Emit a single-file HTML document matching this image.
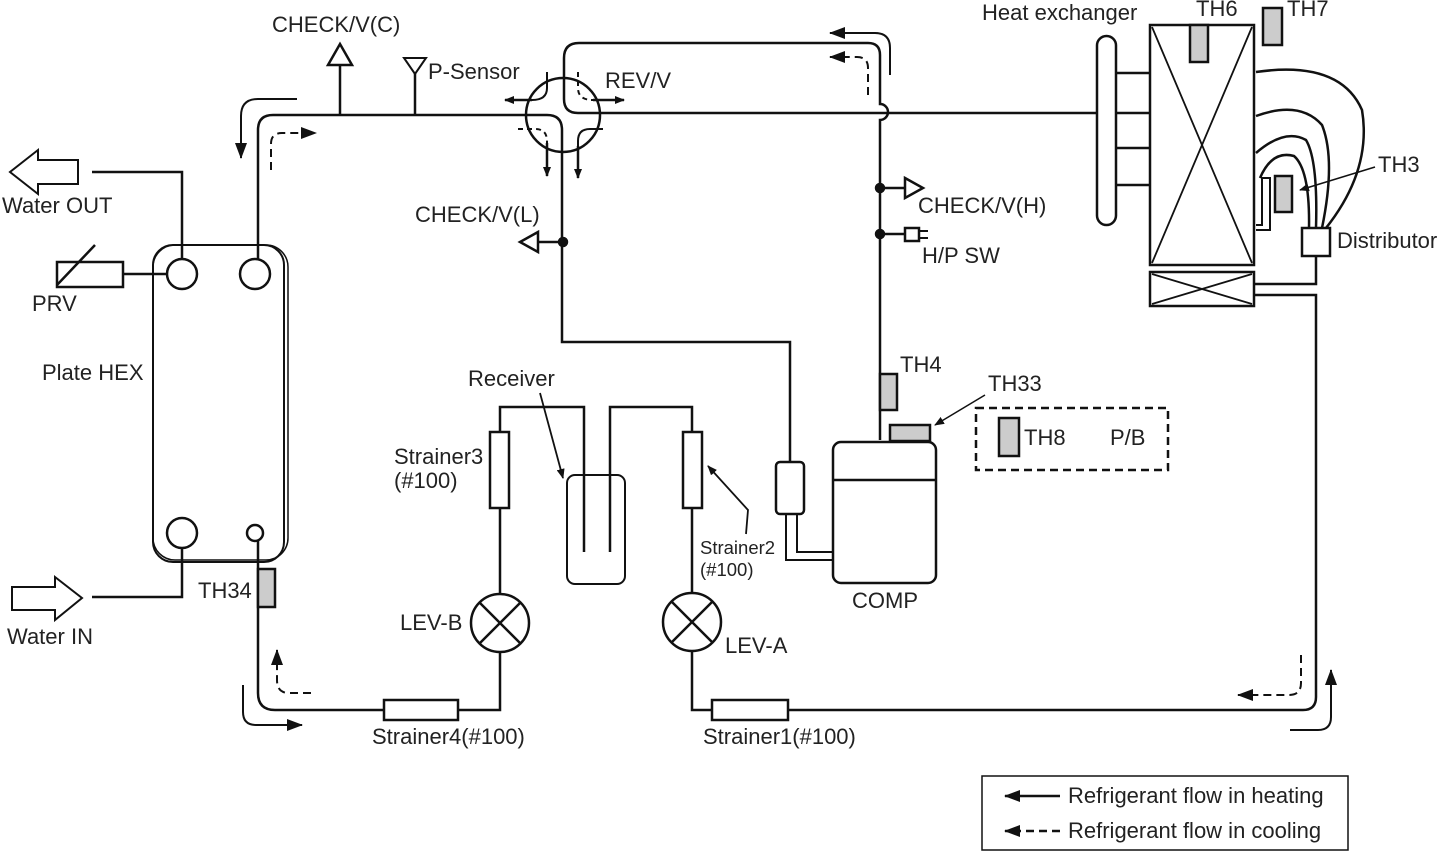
<!DOCTYPE html>
<html><head><style>body{margin:0;background:#fff}svg{display:block}text{font-family:"Liberation Sans",Arial,sans-serif;font-size:22px;fill:#222}</style></head><body>
<svg width="1440" height="851" viewBox="0 0 1440 851" xmlns="http://www.w3.org/2000/svg">
<defs>
<marker id="ah" markerWidth="10" markerHeight="8" refX="9" refY="4" orient="auto" markerUnits="userSpaceOnUse"><path d="M0,0 L10,4 L0,8z" fill="#111"/></marker>
<marker id="ah2" markerWidth="16" markerHeight="12" refX="15" refY="6" orient="auto" markerUnits="userSpaceOnUse"><path d="M0,0 L16,6 L0,12z" fill="#111"/></marker>
</defs>
<g fill="none" stroke="#111" stroke-width="2.5">
<!-- top line left into rev valve, then down -->
<path d="M258,262 V130 Q258,115 273,115 H547 Q562,115 562,130 V342 H790 V462"/>
<!-- rev loop -->
<path d="M1098,113 H578 Q564,113 564,99 V58 Q564,43 579,43 H868 Q880,43 880,55 V104 a8,8 0 0 1 0,16 V440"/>
<circle cx="563" cy="115" r="37"/>
<path d="M547,72 V88 Q547,100 532,100 M603,129 H590 Q578,129 578,141 V148" stroke-width="2"/>
<path d="M578,72 V88 Q578,100 593,100 M518,129 H535 Q547,129 547,141 V145" stroke-width="2" stroke-dasharray="5,4"/>
<line x1="532" y1="100" x2="505" y2="100" marker-end="url(#ah)"/>
<line x1="593" y1="100" x2="624" y2="100" marker-end="url(#ah)"/>
<line x1="547" y1="143" x2="547" y2="176" marker-end="url(#ah)"/>
<line x1="578" y1="146" x2="578" y2="178" marker-end="url(#ah)"/>
<rect x="776" y="462" width="28" height="52" rx="4"/>
<path d="M786,514 V560 H833 M797,514 V552 H833" stroke-width="2"/>
<path d="M563,242 H538"/><path d="M538,232 L520,242 L538,252z" stroke-width="2.5"/>
<circle cx="563" cy="242" r="4" fill="#111"/>
<!-- check H, HP -->
<path d="M880,188 H905"/><path d="M905,178 L923,188 L905,198z"/>
<circle cx="880" cy="188" r="4" fill="#111"/>
<path d="M880,234 H905"/><rect x="905" y="228" width="14" height="13"/><path d="M919,231 H928 M919,238 H928" stroke-width="2"/>
<circle cx="880" cy="234" r="4" fill="#111"/>
<!-- comp -->
<rect x="833" y="442" width="103" height="141" rx="8"/>
<line x1="833" y1="480" x2="936" y2="480"/>
<rect x="890" y="425" width="40" height="16" fill="#ccc"/>
<rect x="880" y="374" width="17" height="36" fill="#ccc"/>
<path d="M985,395 L935,425" stroke-width="1.5" marker-end="url(#ah)"/>
<rect x="976" y="408" width="192" height="62" stroke-dasharray="8,5"/>
<rect x="999" y="418" width="20" height="38" fill="#ccc"/>
<!-- check C, P-sensor -->
<path d="M340,115 V65"/><path d="M328,65 L340,44 L352,65z"/>
<path d="M415,115 V72"/><path d="M404,58 L426,58 L415,74z" stroke-width="2"/>
<!-- right heat exchanger -->
<rect x="1097" y="36" width="19" height="189" rx="9.5"/>
<path d="M1116,73 H1150 M1116,113 H1150 M1116,148 H1150 M1116,185 H1150"/>
<rect x="1150" y="25" width="104" height="240"/>
<path d="M1152,27 L1252,263 M1252,27 L1152,263" stroke-width="1.8"/>
<rect x="1150" y="272" width="104" height="34"/>
<path d="M1152,274 L1252,304 M1252,274 L1152,304" stroke-width="1.8"/>
<rect x="1190" y="25" width="18" height="37" fill="#ccc"/>
<rect x="1263" y="8" width="19" height="37" fill="#ccc"/>
<rect x="1302" y="228" width="28" height="28"/>
<path d="M1256,72 Q1340,60 1362,110 Q1372,170 1326,228"/>
<path d="M1256,116 Q1300,100 1322,125 Q1336,160 1322,228"/>
<path d="M1256,153 Q1285,128 1306,140 Q1318,160 1316,228"/>
<path d="M1260,178 Q1272,150 1294,156 Q1310,170 1309,228"/>
<path d="M1256,230 H1270 V178 H1262 V225 H1256" stroke-width="2"/>
<rect x="1275" y="176" width="17" height="36" fill="#ccc"/>
<path d="M1375,167 L1300,190" stroke-width="1.5" marker-end="url(#ah)"/>
<path d="M1316,256 V284 H1254 M1254,295 H1316 V697 Q1316,710 1303,710 H788 M712,710 H692 V651 M692,593 V508 M692,432 V407 H610 V552 M584,552 V407 H500 V432 M500,508 V594 M500,652 V710 H458 M384,710 H275 Q258,710 258,693 V540"/>
<rect x="712" y="700" width="76" height="20"/>
<rect x="384" y="700" width="74" height="20"/>
<rect x="683" y="432" width="19" height="76"/>
<rect x="490" y="432" width="19" height="76"/>
<rect x="567" y="475" width="58" height="109" rx="8" stroke-width="2"/>
<circle cx="692" cy="622" r="29"/><path d="M672,602 L712,642 M712,602 L672,642"/>
<circle cx="500" cy="623" r="29"/><path d="M480,603 L520,643 M520,603 L480,643"/>
<path d="M540,393 L563,478" stroke-width="1.8" marker-end="url(#ah)"/>
<path d="M746,534 L748,510 L708,466" stroke-width="1.8" marker-end="url(#ah)"/>
<rect x="258" y="569" width="17" height="38" fill="#ccc"/>
<!-- plate hex -->
<rect x="153" y="245" width="131" height="317" rx="20" stroke-width="2"/>
<rect x="153" y="245" width="135" height="315" rx="22" stroke-width="1.5"/>
<circle cx="182" cy="274" r="15" fill="#fff"/>
<circle cx="255" cy="274" r="15" fill="#fff"/>
<circle cx="182" cy="533" r="15" fill="#fff"/>
<circle cx="255" cy="533" r="8" fill="#fff"/>
<path d="M182,259 V172 H92 M182,548 V597 H92"/>
<path d="M78,160 H38 V150 L10,172 L38,194 V184 H78z" stroke-width="2"/>
<path d="M12,587 H55 V577 L82,598 L55,620 V610 H12z" stroke-width="2"/>
<rect x="57" y="262" width="66" height="25"/><path d="M57,285 L95,245 M123,274 H167"/>
<!-- flow arrows -->
<path d="M297,99 H258 Q241,99 241,116 V158" stroke-width="2" marker-end="url(#ah2)"/>
<path d="M271,170 V144 Q271,133 282,133 H316" stroke-width="2" stroke-dasharray="8,5" marker-end="url(#ah2)"/>
<path d="M890,75 V48 Q890,33 875,33 H830" stroke-width="2" marker-end="url(#ah2)"/>
<path d="M868,95 V68 Q868,57 857,57 H830" stroke-width="2" stroke-dasharray="8,5" marker-end="url(#ah2)"/>
<path d="M243,685 V712 Q243,725 256,725 H302" stroke-width="2" marker-end="url(#ah2)"/>
<path d="M311,693 H289 Q277,693 277,680 V650" stroke-width="2" stroke-dasharray="8,5" marker-end="url(#ah2)"/>
<path d="M1290,730 H1318 Q1331,730 1331,717 V670" stroke-width="2" marker-end="url(#ah2)"/>
<path d="M1301,655 V683 Q1301,695 1289,695 H1238" stroke-width="2" stroke-dasharray="8,5" marker-end="url(#ah2)"/>
<!-- legend -->
<rect x="982" y="776" width="366" height="74" stroke-width="1.5"/>
<line x1="1060" y1="796" x2="1005" y2="796" stroke-width="2.5" marker-end="url(#ah2)"/>
<line x1="1060" y1="831" x2="1005" y2="831" stroke-width="2.5" stroke-dasharray="8,5" marker-end="url(#ah2)"/>
</g>
<text x="272" y="32">CHECK/V(C)</text>
<text x="428" y="79">P-Sensor</text>
<text x="605" y="88">REV/V</text>
<text x="982" y="20">Heat exchanger</text>
<text x="1196" y="16">TH6</text>
<text x="1287" y="16">TH7</text>
<text x="1378" y="172">TH3</text>
<text x="1337" y="248">Distributor</text>
<text x="2" y="213">Water OUT</text>
<text x="32" y="311">PRV</text>
<text x="42" y="380">Plate HEX</text>
<text x="415" y="222">CHECK/V(L)</text>
<text x="918" y="213">CHECK/V(H)</text>
<text x="922" y="263">H/P SW</text>
<text x="900" y="372">TH4</text>
<text x="988" y="391">TH33</text>
<text x="1024" y="445">TH8</text>
<text x="1110" y="445">P/B</text>
<text x="468" y="386">Receiver</text>
<text x="394" y="464">Strainer3</text>
<text x="394" y="488">(#100)</text>
<text x="700" y="554" style="font-size:18.5px">Strainer2</text>
<text x="700" y="576" style="font-size:18.5px">(#100)</text>
<text x="852" y="608">COMP</text>
<text x="198" y="598">TH34</text>
<text x="400" y="630">LEV-B</text>
<text x="725" y="653">LEV-A</text>
<text x="7" y="644">Water IN</text>
<text x="372" y="744">Strainer4(#100)</text>
<text x="703" y="744">Strainer1(#100)</text>
<text x="1068" y="803">Refrigerant flow in heating</text>
<text x="1068" y="838">Refrigerant flow in cooling</text>
</svg>
</body></html>
